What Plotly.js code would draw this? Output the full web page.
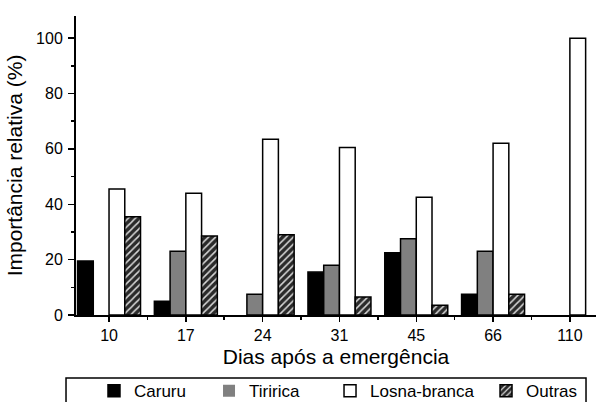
<!DOCTYPE html>
<html><head><meta charset="utf-8">
<script src="https://cdn.plot.ly/plotly-3.0.1.min.js"></script>
<style>html,body{margin:0;padding:0;background:#fff}#chart{width:597px;height:402px}</style>
</head><body><div id="chart"></div>
<script>
const categories = ['10','17','24','31','45','66','110'];
const seriesNames = ['Caruru','Tiririca','Losna-branca','Outras'];
const caruru   = [19.5, 5, 0, 15.5, 22.5, 7.5, 0];
const tiririca = [0, 23, 7.5, 18, 27.5, 23, 0];
const losna    = [45.5, 44, 63.5, 60.5, 42.5, 62, 100];
const outras   = [35.5, 28.5, 29, 6.5, 3.5, 7.5, 0];

const xpos = categories.map((c,i)=>i);
const lw = vals => ({color:'#000', width: vals.map(v => v > 0 ? 1.5 : 0)});
const traces = [
  {type:'bar', name:seriesNames[0], legend:'legend', x:xpos, y:caruru, marker:{color:'#000', line:lw(caruru)}},
  {type:'bar', name:seriesNames[1], legend:'legend2', x:xpos, y:tiririca, marker:{color:'#808080', line:lw(tiririca)}},
  {type:'bar', name:seriesNames[2], legend:'legend3', x:xpos, y:losna, marker:{color:'#fff', line:lw(losna)}},
  {type:'bar', name:seriesNames[3], legend:'legend4', x:xpos, y:outras, marker:{color:'#2a2a2a', line:lw(outras),
     pattern:{shape:'/', fgcolor:'#d8d8d8', bgcolor:'#2a2a2a', size:5, solidity:0.3}}}
];
const fam = 'Arial, Liberation Sans, sans-serif';
const legFont = {size:17, family:fam, color:'#000'};
const leg = x => ({orientation:'h', x:x, xanchor:'left', y:-0.255, yanchor:'middle',
  bgcolor:'rgba(0,0,0,0)', borderwidth:0, font:legFont, itemwidth:30});
const layout = {
  width:597, height:402,
  margin:{l:76, r:1, t:16, b:87, autoexpand:false},
  paper_bgcolor:'#fff', plot_bgcolor:'#fff',
  font:{family:fam, color:'#000'},
  barmode:'group', bargap:0.18, bargroupgap:0,
  showlegend:true,
  legend:leg(0.0346), legend2:leg(0.2558), legend3:leg(0.4885), legend4:leg(0.7885),
  shapes:[{type:'rect', xref:'paper', yref:'paper', x0:-0.0192, x1:0.9808, y0:-0.32, y1:-0.2107,
    line:{color:'#000', width:1.5}, fillcolor:'rgba(0,0,0,0)', layer:'above'}],
  xaxis:{range:[-0.43, 6.34], tickvals:xpos, ticktext:categories, showgrid:false, zeroline:false,
    showline:true, linecolor:'#000', linewidth:2, ticks:'outside', ticklen:5, tickwidth:1.5, tickcolor:'#000',
    ticklabelstandoff:0,
    minor:{tick0:0.5, dtick:1, ticks:'outside', ticklen:3, tickwidth:1.5, tickcolor:'#000'},
    tickfont:{size:16}, title:{text:'Dias após a emergência', font:{size:21}, standoff:6}},
  yaxis:{range:[0,108], tickvals:[0,20,40,60,80,100], showgrid:false, zeroline:false,
    showline:true, linecolor:'#000', linewidth:2, ticks:'outside', ticklen:6, tickwidth:1.5, tickcolor:'#000',
    ticklabelstandoff:2,
    minor:{tick0:10, dtick:20, ticks:'outside', ticklen:3, tickwidth:1.5, tickcolor:'#000'},
    tickfont:{size:16}, title:{text:'Importância relativa (%)', font:{size:21}, standoff:8}}
};
Plotly.newPlot('chart', traces, layout, {displayModeBar:false, staticPlot:true});
</script></body></html>
